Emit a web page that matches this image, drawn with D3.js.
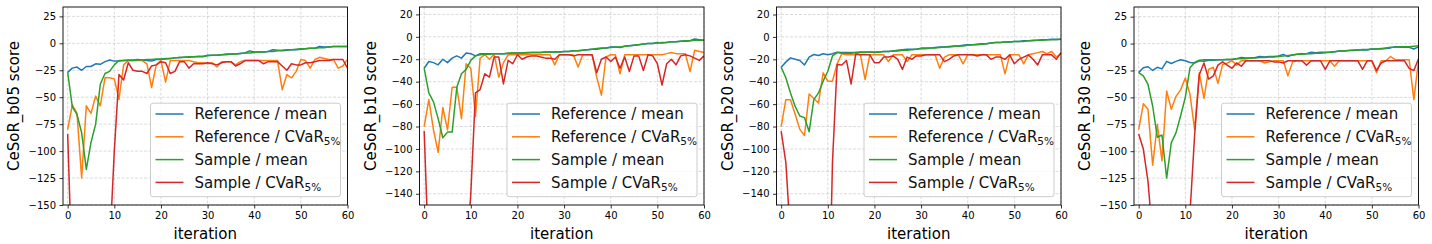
<!DOCTYPE html>
<html>
<head>
<meta charset="utf-8">
<script src="https://cdn.jsdelivr.net/npm/d3@7"></script>
<style>
  body { margin: 0; background: #fff; }
  text { font-family: "DejaVu Sans", sans-serif; }
</style>
</head>
<body>
<div id="chart"></div>
<script>
// x values and tick labels
var iterations = d3.range(0, 61);
var xTicks = [0, 10, 20, 30, 40, 50, 60];
var yTicksA = [25, 0, -25, -50, -75, -100, -125, -150];
var yTicksB = [20, 0, -20, -40, -60, -80, -100, -120, -140];
var seriesNames = ["Reference / mean", "Reference / CVaR", "Sample / mean", "Sample / CVaR"];
var panelNames = ["CeSoR_b05 score", "CeSoR_b10 score", "CeSoR_b20 score", "CeSoR_b30 score"];

// b05 (values below -150 run off the bottom of the plot)
var b05RefMean = [-27,-23,-22,-25,-21.5,-21.5,-19,-19.5,-17,-15.5, -16.5,-16.5,-16,-15.5,-15.5,-15,-15.5,-16,-16.5,-15,
  -15,-14.5,-14,-13.5,-13.5,-13,-13,-12.5,-12.5,-12.5, -11,-11,-11,-10.5,-10,-10,-10,-9.5,-9,-7,
  -8,-8,-8,-7.5,-6,-6.5,-7,-6.5,-6,-6, -5.5,-5,-4.5,-4.5,-3,-3.5,-3.5,-3,-3,-3,-3];
var b05RefCvar = [-80,-57,-65,-125,-58,-65,-49,-58,-32,-32, -33,-52,-20,-16,-16,-16,-16,-19,-41,-20,
  -16,-36,-16,-16,-16,-16,-16,-17,-18,-18, -19,-18,-22,-17,-17,-17,-20,-17,-16,-16,
  -16,-16,-16,-16,-16,-16,-43,-29,-32,-26, -15,-16,-23,-15,-13,-14,-15,-15,-23,-21,-15];
var b05SampleMean = [-27,-59,-66,-83,-117,-92,-75,-38,-28,-26, -20,-16,-16,-16,-16,-15.5,-15.5,-15,-15,-14.5,
  -14.5,-14,-14,-13.5,-13,-13,-12.5,-12.5,-12,-12, -11.5,-11,-11,-10.5,-10.5,-10,-10,-9.5,-9,-9,
  -8.5,-8,-8,-7.5,-7.5,-7,-6.5,-6,-6,-5.5, -5,-5,-4.5,-4.5,-4,-4,-3.5,-3,-3,-3,-3];
var b05SampleCvar = [-84,-220,-320,-380,-400,-380,-350,-320,-260,-190, -100,-29,-34,-18,-25,-26,-26,-28,-21,-20,
  -17,-18,-28,-26,-17,-17,-23,-19,-19,-19, -18,-19,-20,-18,-17,-17,-21,-19,-16,-16,
  -16,-16,-19,-17,-17,-17,-21,-25,-19,-20, -20,-18,-18,-17,-16,-16,-16,-15,-15,-15,-23];

// b10
var b10RefMean = [-28,-22,-23,-25,-20,-23,-19,-17,-19,-14.5, -15,-17,-15,-15,-15,-15,-15,-15,-15,-14.5,
  -14.5,-14.5,-14.5,-14,-14,-14,-13.5,-13.5,-13.5,-13.5, -13,-13,-12.5,-12.5,-12,-11.5,-11,-11,-10.5,-10,
  -9,-9,-9.5,-8.5,-8,-7.5,-7,-6.5,-6,-6, -5,-5.5,-5,-4.5,-4.5,-4,-4,-3.5,-2,-2.5,-3];
var b10RefCvar = [-80,-56,-83,-103,-63,-83,-45,-45,-73,-24, -28,-71,-19,-16,-20,-15.5,-36,-23,-16,-16,
  -16,-16,-16,-16,-16,-16,-16,-16,-25,-16, -16,-16,-16,-27,-16,-16,-16,-36,-52,-18,
  -16,-16,-33,-16,-16,-16,-16,-16,-16,-16, -16,-16,-15,-14,-15,-15,-15,-31,-12,-13,-14];
var b10SampleMean = [-28,-50,-58,-73,-90,-85,-85,-45,-33,-29, -21,-17,-16,-15.5,-15.5,-15,-15,-15,-14.5,-14.5,
  -14.5,-14.5,-14,-14,-14,-14,-13.5,-13.5,-13.5,-13.5, -13,-13,-12.5,-12.5,-12,-11.5,-11,-10.5,-10,-10,
  -9.5,-9,-9,-8.5,-8,-7.5,-7,-6.5,-6,-6, -5.5,-5,-5,-4.5,-4.5,-4,-3.5,-3.5,-3,-3,-3];
var b10SampleCvar = [-84,-200,-300,-350,-300,-320,-300,-280,-260,-200, -140,-50,-47,-33,-36,-18,-18,-42,-21,-24,
  -16,-20,-18,-17,-17,-18,-19,-19,-20,-16, -16,-16,-17,-16,-16,-16,-16,-32,-20,-18,
  -22,-18,-28,-18,-31,-17,-17,-30,-16,-17, -24,-43,-24,-20,-25,-17,-16,-17,-19,-21,-17];

// b20
var b20RefMean = [-27,-22.5,-18.7,-20,-21,-25,-18,-15.7,-16.6,-15, -16,-15,-13.6,-14,-14,-14,-14,-13.5,-13.5,-13.5,
  -14,-13.5,-13,-13,-12.5,-12,-11.5,-11,-11,-11, -10,-10,-10,-9.5,-9,-9,-8.5,-8,-8,-7.5,
  -7,-7,-6.5,-6,-6,-5.5,-5,-5,-4.5,-4.5, -4,-4,-3.5,-3.5,-3,-3,-2.5,-2.5,-2,-2,-2];
var b20RefCvar = [-80,-56,-56,-69,-82.5,-88,-51,-55,-59,-32, -39.5,-39.5,-24,-15,-16,-16,-16,-16,-38,-16,
  -16,-16,-16,-22,-16,-16,-16,-22,-16,-16, -16,-16,-16,-16,-28,-18,-16,-16,-16,-24,
  -16,-16,-16,-16,-16,-16,-16,-16,-33,-16, -16,-16,-24,-16,-15,-14,-13,-15,-13,-18,-15];
var b20SampleMean = [-27,-36.5,-50,-62,-70.6,-72,-84.6,-56,-50,-39.5, -30.6,-17,-14,-14.5,-14.5,-14.5,-14,-14,-14,-13.5,
  -13.5,-13.5,-13,-13,-12.5,-12.5,-12,-12,-11.5,-11, -10.5,-10.5,-10,-10,-9.5,-9,-9,-8.5,-8,-8,
  -7.5,-7,-7,-6.5,-6,-5.5,-5,-5,-4.5,-4.5, -4,-4,-4,-3.5,-3.5,-3,-3,-2.5,-2.5,-2.5,-2];
var b20SampleCvar = [-84,-112,-179,-300,-300,-300,-300,-300,-300,-300, -300,-112,-24.6,-25,-21,-42,-15,-16,-16,-16,
  -23,-23,-18,-18,-17,-20,-29,-18,-20,-17, -17,-16,-16,-16,-16,-22,-20,-17,-16,-16,
  -16,-16,-17,-16,-16,-20,-18,-18,-20,-16, -24,-20,-18,-16,-20,-25,-16,-16,-16,-20,-14];

// b30
var b30RefMean = [-27,-22.5,-21.5,-25,-22,-23.5,-16.5,-18.5,-16.5,-15, -16,-17.5,-18,-16,-16.5,-15.5,-15.5,-15,-15,-15,
  -15,-14,-13,-13.5,-13.5,-13,-12,-12.5,-12,-12, -11.5,-10,-12,-10.5,-10,-9.5,-9.5,-8,-8.5,-8,
  -8,-8,-7.5,-7,-7,-6.5,-6.5,-6,-6,-6, -5,-5,-5,-4.5,-4,-3,-3.5,-3.5,-3.5,-5,-3];
var b30RefCvar = [-80,-56,-61,-113,-75,-109,-44,-61,-49,-43, -32,-47,-80,-27,-51,-24,-22,-37,-19.5,-18,
  -16,-20,-16,-16,-16,-16,-16,-18,-17,-16, -16,-16,-30,-17,-16,-16,-16,-16,-16,-16,
  -16,-16,-21,-16,-16,-16,-16,-16,-16,-16, -16,-27,-16,-16,-12,-15,-15,-15,-15,-52,-16];
var b30SampleMean = [-27,-30,-38,-58,-87,-85,-125,-92,-83,-67, -50,-22.5,-17.5,-15.5,-15,-15,-15,-15,-15,-14.5,
  -14.5,-14,-14,-14,-13.5,-13.5,-13,-13,-12.5,-12.5, -12,-11.5,-11,-10.5,-10,-10,-9.5,-9.5,-9,-9,
  -8.5,-8,-7.5,-7,-7,-6.5,-6,-6,-5.5,-5.5, -5,-5,-4.5,-4,-3.5,-3.5,-3,-3,-3,-2.5,-2];
var b30SampleCvar = [-84,-98,-128,-180,-300,-300,-300,-300,-300,-300, -300,-158,-85,-29,-18,-33,-30,-20,-17,-20,
  -23,-18,-21,-16,-16,-16,-16,-16,-16,-17, -17,-18,-16,-16,-16,-16,-20,-16,-16,-16,
  -24,-16,-16,-16,-16,-16,-16,-16,-24,-16, -16,-25,-18,-16,-16,-16,-16,-16,-23,-25,-14];

var panels = [
  {label: panelNames[0], yTop: 33.7, ticks: yTicksA, series: [b05RefMean, b05RefCvar, b05SampleMean, b05SampleCvar]},
  {label: panelNames[1], yTop: 26.6, ticks: yTicksB, series: [b10RefMean, b10RefCvar, b10SampleMean, b10SampleCvar]},
  {label: panelNames[2], yTop: 26.7, ticks: yTicksB, series: [b20RefMean, b20RefCvar, b20SampleMean, b20SampleCvar]},
  {label: panelNames[3], yTop: 34, ticks: yTicksA, series: [b30RefMean, b30RefCvar, b30SampleMean, b30SampleCvar]}
];

var colors = ["#1f77b4", "#ff7f0e", "#2ca02c", "#d62728"];
var lefts = [63, 419.5, 776.5, 1134];
var plotW = 284.5, plotTop = 7, plotBottom = 205;

var minus = function(d) { return d < 0 ? "\u2212" + Math.abs(d) : String(d); };

var svg = d3.select("#chart").append("svg")
    .attr("width", 1432)
    .attr("height", 244);
var defs = svg.append("defs");

panels.forEach(function(p, k) {
    var left = lefts[k], right = left + plotW;
    var x = d3.scaleLinear().domain([-1, 60]).range([left, right]);
    var y = d3.scaleLinear().domain([-150, p.yTop]).range([plotBottom, plotTop]);
    var g = svg.append("g");

    // grid
    g.selectAll(".gx").data(xTicks).enter().append("line")
        .attr("x1", d => x(d)).attr("x2", d => x(d))
        .attr("y1", plotTop).attr("y2", plotBottom)
        .attr("stroke", "#b0b0b0").attr("stroke-opacity", 0.45)
        .attr("stroke-dasharray", "3,1.5");
    g.selectAll(".gy").data(p.ticks).enter().append("line")
        .attr("y1", d => y(d)).attr("y2", d => y(d))
        .attr("x1", left).attr("x2", right)
        .attr("stroke", "#b0b0b0").attr("stroke-opacity", 0.45)
        .attr("stroke-dasharray", "3,1.5");

    // clip to the axes box
    defs.append("clipPath").attr("id", "clip" + k)
        .append("rect")
        .attr("x", left).attr("y", plotTop)
        .attr("width", plotW).attr("height", plotBottom - plotTop);

    var line = d3.line()
        .x((d, i) => x(iterations[i]))
        .y(d => y(d));

    g.append("g").attr("clip-path", "url(#clip" + k + ")")
        .selectAll("path").data(p.series).enter().append("path")
        .attr("d", line)
        .attr("fill", "none")
        .attr("stroke", (d, i) => colors[i])
        .attr("stroke-width", 1.5)
        .attr("stroke-linejoin", "round");

    // axes
    var xAxis = g.append("g")
        .attr("transform", "translate(0," + plotBottom + ")")
        .call(d3.axisBottom(x).tickValues(xTicks).tickSize(3.5).tickPadding(3.5).tickSizeOuter(0));
    var yAxis = g.append("g")
        .attr("transform", "translate(" + left + ",0)")
        .call(d3.axisLeft(y).tickValues(p.ticks).tickFormat(minus).tickSize(3.5).tickPadding(3.5).tickSizeOuter(0));
    [xAxis, yAxis].forEach(function(a) {
        a.select(".domain").remove();
        a.selectAll("text").attr("font-size", 10).attr("fill", "#000")
            .style("font-family", "DejaVu Sans, sans-serif");
        a.selectAll("line").attr("stroke", "#000").attr("stroke-width", 0.8);
    });

    // spines
    g.append("rect")
        .attr("x", left).attr("y", plotTop)
        .attr("width", plotW).attr("height", plotBottom - plotTop)
        .attr("fill", "none").attr("stroke", "#000").attr("stroke-width", 0.9);

    // labels
    g.append("text")
        .attr("x", (left + right) / 2).attr("y", 239)
        .attr("text-anchor", "middle").attr("font-size", 15)
        .text("iteration");
    g.append("text")
        .attr("transform", "translate(" + (left - 44) + "," + ((plotTop + plotBottom) / 2) + ") rotate(-90)")
        .attr("text-anchor", "middle").attr("font-size", 15)
        .text(p.label);

    // legend
    var lw = 190, lh = 93.5;
    var lx = right - 7 - lw, ly = plotBottom - 8.3 - lh;
    var leg = g.append("g");
    leg.append("rect")
        .attr("x", lx).attr("y", ly).attr("width", lw).attr("height", lh)
        .attr("rx", 2.5)
        .attr("fill", "#fff").attr("fill-opacity", 0.8)
        .attr("stroke", "#cccccc").attr("stroke-width", 1);
    seriesNames.forEach(function(name, i) {
        var ry = ly + 10.8 + i * 22.8;
        leg.append("line")
            .attr("x1", lx + 5).attr("x2", lx + 33)
            .attr("y1", ry).attr("y2", ry)
            .attr("stroke", colors[i]).attr("stroke-width", 1.5);
        var t = leg.append("text")
            .attr("x", lx + 44).attr("y", ry + 5.3)
            .attr("font-size", 15).attr("fill", "#111");
        t.append("tspan").text(name);
        if (name.indexOf("CVaR") >= 0) {
            t.append("tspan").attr("font-size", 10.5).attr("dy", 2.8).text("5%");
        }
    });
});
</script>
</body>
</html>
